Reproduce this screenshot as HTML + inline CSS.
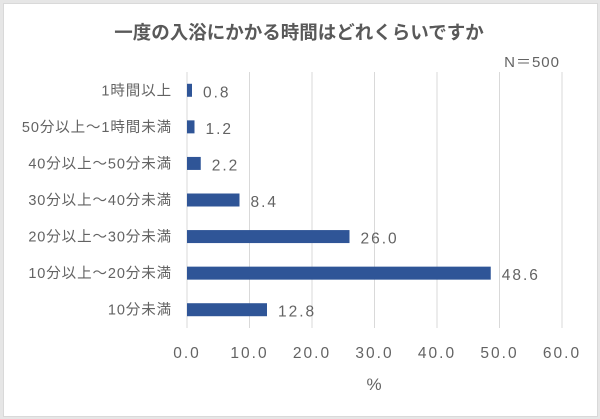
<!DOCTYPE html>
<html><head><meta charset="utf-8"><style>
html,body{margin:0;padding:0;background:#e6e6e6;}
#frame{position:absolute;left:3px;top:3px;width:593px;height:412px;background:#fff;border:1px solid #d9d9d9;}
svg{position:absolute;left:0;top:0;}
text{font-family:"Liberation Sans","Noto Sans CJK JP",sans-serif;fill:#636363;}
</style></head><body>
<div id="frame"></div>
<svg id="chart" width="600" height="419">
<text x="299" y="39" text-anchor="middle" font-size="18.5" font-weight="bold" fill="#595959" style="fill:#595959">一度の入浴にかかる時間はどれくらいですか</text>
<text x="560" y="67" text-anchor="end" font-size="15" letter-spacing="1">N＝500</text>
<text x="374" y="390" text-anchor="middle" font-size="17">%</text>
</svg>
<script>
const categories=["1時間以上","50分以上～1時間未満","40分以上～50分未満","30分以上～40分未満","20分以上～30分未満","10分以上～20分未満","10分未満"];
const values=[0.8,1.2,2.2,8.4,26.0,48.6,12.8];
const ticks=[0,10,20,30,40,50,60];
const svg=document.getElementById('chart');
const NS='http://www.w3.org/2000/svg';
const x0=187,x1=562,xmax=60;
const xs=v=>x0+(v/xmax)*(x1-x0);
const yTop=72,yBot=328,bandH=(yBot-yTop)/categories.length;
const yc=i=>yTop+bandH*(i+0.5);
function mk(tag,attrs){const e=document.createElementNS(NS,tag);for(const k in attrs)e.setAttribute(k,attrs[k]);svg.appendChild(e);return e;}
ticks.forEach(t=>{
  const g=mk('line',{x1:xs(t),x2:xs(t),y1:yTop,y2:yBot,stroke:'#d9d9d9','stroke-width':1});
  
  
  const l=mk('text',{x:xs(t),y:358,'text-anchor':'middle','font-size':15.5,'letter-spacing':2});
  l.textContent=t.toFixed(1);
  
  
});
categories.forEach((c,i)=>{
  const y=yc(i);
  const lab=mk('text',{x:172,y:y+5,'text-anchor':'end','font-size':14.5,'letter-spacing':0.9});
  lab.textContent=c;
  
  
  const b=mk('rect',{x:x0,y:y-6.5,width:xs(values[i])-x0,height:13,fill:'#2f5597'});
  
  
  const v=mk('text',{x:xs(values[i])+11,y:y+7,'font-size':15.5,'letter-spacing':2});
  v.textContent=values[i].toFixed(1);
  
  
});
</script>
</body></html>
